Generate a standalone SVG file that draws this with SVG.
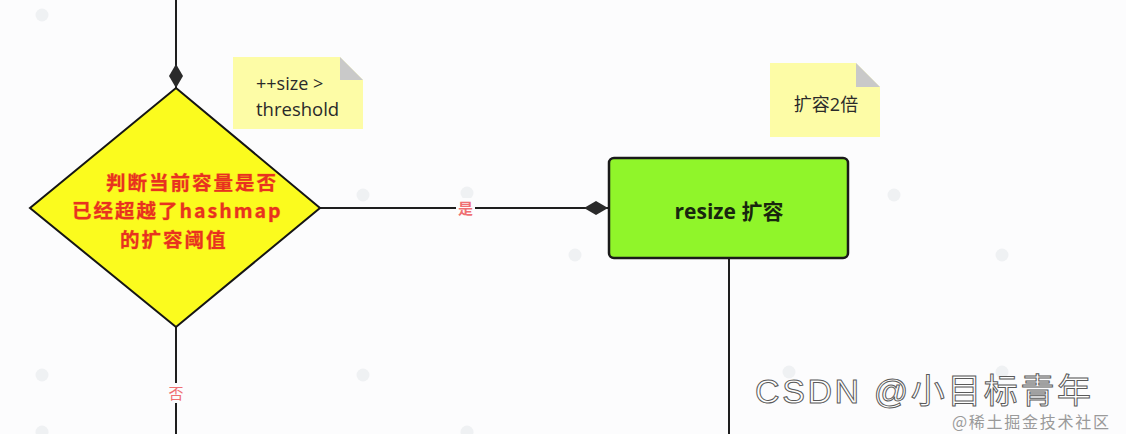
<svg xmlns="http://www.w3.org/2000/svg" width="1126" height="434" viewBox="0 0 1126 434">
  <style>
    .conn { stroke: #1e1e1e; stroke-width: 2; fill: none; }
    .dot { fill: #eff1f3; }
    .note { fill: #fdfca6; }
    .fold { fill: #c9c9c9; }
    .notetext { font-family: "Open Sans", "Noto Sans CJK SC", sans-serif; fill: #2a2a2a; }
    .cond { font-family: "Noto Sans CJK SC", sans-serif; font-weight: bold; font-size: 19.5px; letter-spacing: 2px; fill: #e8321f; stroke: #f59a20; stroke-width: 0.6; paint-order: stroke; }
    .edgelabel { font-family: "Noto Sans CJK SC", sans-serif; font-size: 15px; fill: #ef6f72; }
  </style>
  <defs>
    <marker id="dia" viewBox="0 0 24 14" refX="24" refY="7" markerWidth="24" markerHeight="14" markerUnits="userSpaceOnUse" orient="auto">
      <path d="M0,7 L12,0 L24,7 L12,14 Z" fill="#2a2a2a"/>
    </marker>
  </defs>
  <rect width="1126" height="434" fill="#fcfcfd"/>
  <g id="grid-dots">
    <circle class="dot" cx="42" cy="15" r="6.5"/>
    <circle class="dot" cx="363" cy="195" r="6.5"/>
    <circle class="dot" cx="467" cy="193" r="6.5"/>
    <circle class="dot" cx="894" cy="195" r="6.5"/>
    <circle class="dot" cx="147" cy="255" r="6.5"/>
    <circle class="dot" cx="575" cy="255" r="6.5"/>
    <circle class="dot" cx="1002" cy="255" r="6.5"/>
    <circle class="dot" cx="42" cy="375" r="6.5"/>
    <circle class="dot" cx="363" cy="375" r="6.5"/>
    <circle class="dot" cx="789" cy="372" r="6.5"/>
    <circle class="dot" cx="1002" cy="372" r="6.5"/>
    <circle class="dot" cx="42" cy="432" r="6.5"/>
    <circle class="dot" cx="467" cy="432" r="6.5"/>
  </g>
  <g id="connectors">
    <line class="conn" x1="176" y1="0" x2="176" y2="88" marker-end="url(#dia)"/>
    <line class="conn" x1="320" y1="208" x2="608" y2="208" marker-end="url(#dia)"/>
    <line class="conn" x1="176" y1="327" x2="176" y2="434"/>
    <line class="conn" x1="729" y1="258" x2="729" y2="434"/>
    <rect x="456" y="198" width="19" height="20" fill="#fcfcfd"/>
    <text class="edgelabel" x="465.5" y="214" text-anchor="middle" font-weight="bold">是</text>
    <rect x="167" y="383" width="18" height="20" fill="#fcfcfd"/>
    <text class="edgelabel" x="176" y="399" text-anchor="middle">否</text>
  </g>
  <g id="decision">
    <polygon points="176,88 320,208 176,327 30,208" fill="#fbfb1e" stroke="#151515" stroke-width="2"/>
    <text class="cond"><tspan x="106" y="189.5">判断当前容量是否</tspan><tspan x="72" y="218">已经超越了hashmap</tspan><tspan x="120" y="246.5">的扩容阈值</tspan></text>
  </g>
  <g id="resize">
    <rect x="609" y="158" width="239" height="100" rx="5" fill="#90f52a" stroke="#1a1a1a" stroke-width="2.5"/>
    <text x="729" y="219" text-anchor="middle" font-family="'Open Sans', 'Noto Sans CJK SC', sans-serif" font-weight="bold" font-size="21" fill="#18260e">resize 扩容</text>
  </g>
  <g id="note-threshold">
    <polygon class="note" points="233,57 340,57 363,80 363,129 233,129"/>
    <polygon class="fold" points="340,57 363,80 340,80"/>
    <text class="notetext" x="256" y="90" font-size="18">++size &gt;</text>
    <text class="notetext" x="256" y="116" font-size="18.5">threshold</text>
  </g>
  <g id="note-double">
    <polygon class="note" points="770,63 856,63 880,87 880,137 770,137"/>
    <polygon class="fold" points="856,63 880,87 856,87"/>
    <text class="notetext" x="826" y="111" font-size="18" text-anchor="middle">扩容2倍</text>
  </g>
  <g id="watermark">
    <text x="755" y="403" font-family="'Liberation Sans', 'Noto Sans CJK SC', sans-serif" font-size="34" fill="#ffffff" stroke="#5a5a5a" stroke-width="1" textLength="336">CSDN @小目标青年</text>
    <text x="952" y="428" font-family="'Noto Sans CJK SC', sans-serif" font-size="16" fill="#9a9a9a" textLength="157">@稀土掘金技术社区</text>
  </g>
</svg>
